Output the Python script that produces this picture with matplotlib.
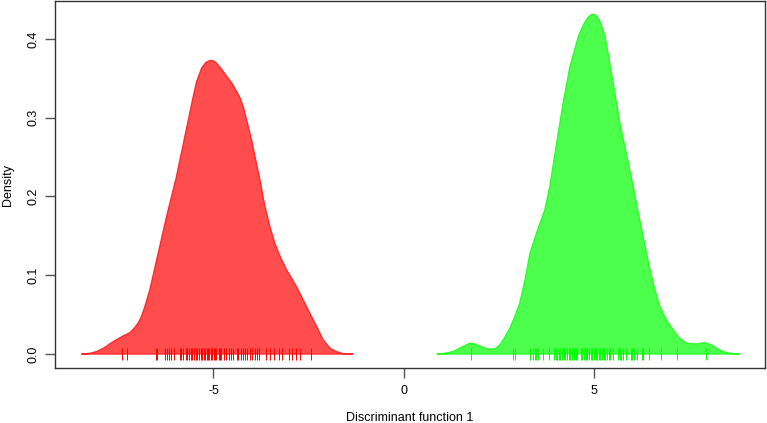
import numpy as np
import matplotlib
matplotlib.use("Agg")
import matplotlib.pyplot as plt

plt.rcParams['font.family'] = ['Liberation Sans', 'DejaVu Sans']
plt.rcParams['axes.unicode_minus'] = False

# density curves (x, density)
red_x = [-8.46, -8.24, -8.07, -7.89, -7.63, -7.37, -7.19, -7.06, -6.97, -6.89, -6.80, -6.67,
         -6.49, -6.23, -5.97, -5.75, -5.53, -5.44, -5.31, -5.20, -5.09, -5.00, -4.92, -4.79,
         -4.65, -4.52, -4.39, -4.30, -4.22, -4.13, -4.00, -3.91, -3.78, -3.65, -3.52, -3.39,
         -3.25, -3.08, -2.82, -2.47, -2.29, -2.12, -1.94, -1.77, -1.59, -1.35]
red_y = [0.0, 0.0008, 0.003, 0.0072, 0.0157, 0.0229, 0.0271, 0.0339, 0.0398, 0.0474, 0.0601, 0.0813,
         0.1194, 0.1744, 0.2252, 0.2760, 0.3268, 0.3458, 0.3627, 0.3700, 0.3725, 0.3721, 0.3691, 0.3615,
         0.3522, 0.3437, 0.3331, 0.3247, 0.3140, 0.2971, 0.2717, 0.2506, 0.2210, 0.1873, 0.1619, 0.1405,
         0.1236, 0.1067, 0.0855, 0.0516, 0.0347, 0.0178, 0.0072, 0.003, 0.0004, 0.0]

green_x = [0.87, 1.08, 1.29, 1.51, 1.73, 1.86, 1.99, 2.17, 2.30, 2.41, 2.52, 2.65, 2.78, 2.91,
           3.04, 3.18, 3.31, 3.48, 3.70, 3.83, 4.01, 4.18, 4.36, 4.58, 4.71, 4.84, 4.94, 5.03,
           5.14, 5.28, 5.45, 5.67, 5.93, 6.19, 6.46, 6.59, 6.72, 6.89, 7.07, 7.24, 7.42, 7.68,
           7.90, 8.08, 8.21, 8.38, 8.56, 8.82]
green_y = [0.0, 0.0008, 0.003, 0.0085, 0.0136, 0.0127, 0.0102, 0.0068, 0.0059, 0.0072, 0.0114, 0.0212,
           0.0326, 0.0474, 0.0643, 0.0940, 0.1278, 0.1532, 0.1829, 0.2125, 0.2675, 0.3183, 0.3649,
           0.4030, 0.4178, 0.4275, 0.4313, 0.4305, 0.4233, 0.4030, 0.3564, 0.2929, 0.2336, 0.1702,
           0.1067, 0.0813, 0.0601, 0.0432, 0.0305, 0.0199, 0.0136, 0.0127, 0.0144, 0.0114, 0.0072,
           0.003, 0.0008, 0.0]

# individual scores (rug)
red_pts = [-7.39, -7.26, -6.52, -6.47, -6.28, -6.23, -6.16, -6.12, -6.04, -5.88, -5.84, -5.79,
           -5.73, -5.69, -5.64, -5.60, -5.56, -5.51, -5.47, -5.42, -5.37, -5.34, -5.29, -5.25,
           -5.21, -5.18, -5.14, -5.11, -5.07, -5.03, -4.99, -4.95, -4.92, -4.86, -4.83, -4.79,
           -4.72, -4.68, -4.59, -4.55, -4.48, -4.39, -4.35, -4.28, -4.22, -4.16, -4.12, -4.04,
           -3.98, -3.91, -3.85, -3.81, -3.62, -3.52, -3.41, -3.28, -3.21, -3.01, -2.95, -2.83,
           -2.73, -2.45]
green_pts = [1.75, 2.87, 2.91, 3.32, 3.39, 3.44, 3.48, 3.53, 3.66, 3.81, 3.94, 3.98, 4.02, 4.07,
             4.11, 4.16, 4.20, 4.24, 4.29, 4.33, 4.37, 4.42, 4.46, 4.51, 4.55, 4.64, 4.68, 4.72,
             4.77, 4.81, 4.86, 4.90, 4.94, 4.99, 5.03, 5.07, 5.12, 5.16, 5.21, 5.25, 5.29, 5.34,
             5.38, 5.42, 5.49, 5.63, 5.67, 5.71, 5.76, 5.82, 5.95, 5.99, 6.04, 6.11, 6.24, 6.28,
             6.44, 6.75, 7.16, 7.92]

fig = plt.figure(figsize=(7.67, 4.23), dpi=100)
ax = fig.add_axes([0.0717, 0.130, 0.9257, 0.8676])

# density polygons
ax.fill(red_x, red_y, facecolor='#ff4c4c', edgecolor='#ff2a2a', linewidth=1, joinstyle='round')
ax.fill(green_x, green_y, facecolor='#4cff4c', edgecolor='#2aff2a', linewidth=1, joinstyle='round')

# rug of individuals
ax.plot(red_pts, np.zeros(len(red_pts)), '|', color='#ff0000', markersize=8, markeredgewidth=0.7)
ax.plot(green_pts, np.zeros(len(green_pts)), '|', color='#00ff00', markersize=8, markeredgewidth=0.7)

ax.set_xlim(-9.16, 9.48)
ax.set_ylim(-0.0178, 0.448)
ax.set_xticks([-5, 0, 5])
ax.set_yticks([0.0, 0.1, 0.2, 0.3, 0.4])
ax.set_yticklabels(['0.0', '0.1', '0.2', '0.3', '0.4'], rotation=90, va='center')
ax.tick_params(direction='out', length=7, width=1, color='#555555', labelsize=9)
ax.tick_params(axis='x', pad=5)
ax.tick_params(axis='y', pad=4)

for s in ax.spines.values():
    s.set_color('#333333')
    s.set_linewidth(1)

ax.set_xlabel('Discriminant function 1', fontsize=9, labelpad=11)
ax.set_ylabel('Density', fontsize=9, labelpad=10)

fig.savefig('out.png', dpi=100)
